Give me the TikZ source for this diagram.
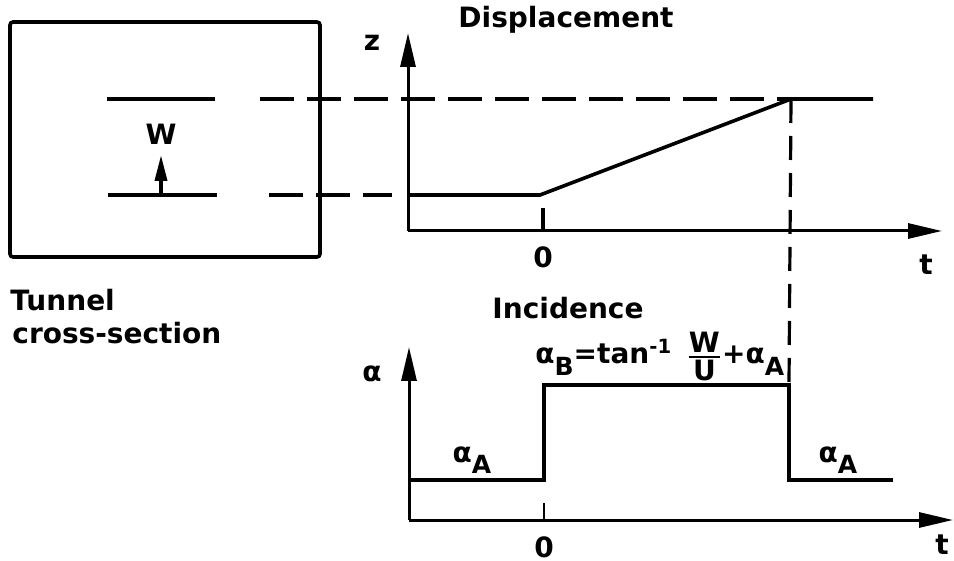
\documentclass[tikz,border=0pt]{standalone}
\usepackage{amsmath}
\usepackage{fontspec}
\setmainfont{DejaVu Sans}
\usetikzlibrary{arrows.meta}

\newcommand{\lowsub}[1]{\raisebox{-0.75ex}{\fontsize{12.5}{14}\selectfont #1}}

\begin{document}
\begin{tikzpicture}[x=0.5pt, y=-0.5pt,
    wall/.style={line width=1.8pt},
    guide/.style={line width=1.6pt, dash pattern=on 17pt off 6.5pt},
    vguide/.style={line width=1.6pt, dash pattern=on 12pt off 6.5pt},
    axis/.style={line width=1.5pt, -{Triangle[length=17pt, width=7.5pt]}},
    label/.style={font=\bfseries\fontsize{14}{16}\selectfont, inner sep=0pt}
]
    \useasboundingbox (0,0) rectangle (954,561);

    % Tunnel cross-section
    \node[draw, wall, rounded corners=1.5pt, minimum width=155pt, minimum height=117.5pt, inner sep=0pt] (tunnel) at (165,139.5) {};
    \coordinate (wtl) at (107,99);
    \coordinate (wtr) at (215,99);
    \coordinate (wbl) at (108,195);
    \coordinate (wbr) at (217,195);
    \coordinate (wfoot) at (161,195);
    \coordinate (whead) at (161,155);
    \draw[wall] (wtl) -- (wtr);
    \draw[wall] (wbl) -- (wbr);
    \draw[wall, -{Triangle[length=13pt, width=6pt]}] (wfoot) -- (whead);
    \node[label] (wlab) at (161,134) {W};
    \node[label, anchor=west] (tun) at (10,300) {Tunnel};
    \node[label, anchor=west] (cross) at (12,333) {cross-section};

    % Displacement
    \coordinate (zo) at (408,231);
    \coordinate (ztip) at (408,33);
    \coordinate (ttip) at (942,231);
    \coordinate (d0) at (408,195);
    \coordinate (d1) at (540,195);
    \coordinate (d2) at (791,99);
    \coordinate (d3) at (873,99);
    \coordinate (tk) at (543,208);
    \coordinate (tkb) at (543,231);
    \coordinate (gtop) at (260,99);
    \coordinate (gbot) at (269,195);
    \coordinate (gbotr) at (392,195);
    \draw[axis] (zo) -- (ztip);
    \draw[axis] (zo) -- (ttip);
    \draw[wall] (d0) -- (d1) -- (d2) -- (d3);
    \draw[wall] (tk) -- (tkb);
    \draw[guide] (gtop) -- (d2);
    \draw[guide] (gbot) -- (gbotr);
    \node[label] (zlab) at (372,43) {z};
    \node[label] (dtitle) at (566,20) {Displacement};
    \node[label] (zero1) at (543,257) {0};
    \node[label] (t1) at (926,265) {t};

    % Incidence
    \coordinate (ao) at (409,520);
    \coordinate (atip) at (409,347);
    \coordinate (btip) at (953,520);
    \coordinate (a0) at (409,480);
    \coordinate (a1) at (544,480);
    \coordinate (a2) at (544,385);
    \coordinate (a3) at (789,385);
    \coordinate (a4) at (789,480);
    \coordinate (a5) at (893,480);
    \coordinate (tk2) at (544,503);
    \draw[axis] (ao) -- (atip);
    \draw[axis] (ao) -- (btip);
    \draw[wall] (a0) -- (a1) -- (a2) -- (a3) -- (a4) -- (a5);
    \draw[wall, line width=1pt] (tk2) -- (a1 |- ao);
    \draw[vguide] (d2) -- (a3);
    \node[label] (alab) at (372,374) {α};
    \node[label] (ititle) at (568,308) {Incidence};
    \node[label] (aleft) at (472,460) {α\lowsub{A}};
    \node[label] (aright) at (838,460) {α\lowsub{A}};
    \node[label, anchor=base west] (formula) at (535,364) {α\lowsub{B}=tan\textsuperscript{-1}\, $\genfrac{}{}{1.2pt}{1}{\mbox{W}}{\mbox{U}}$+α\lowsub{A}};
    \node[label] (zero2) at (544,547) {0};
    \node[label] (t2) at (942,545) {t};
\end{tikzpicture}
\end{document}
